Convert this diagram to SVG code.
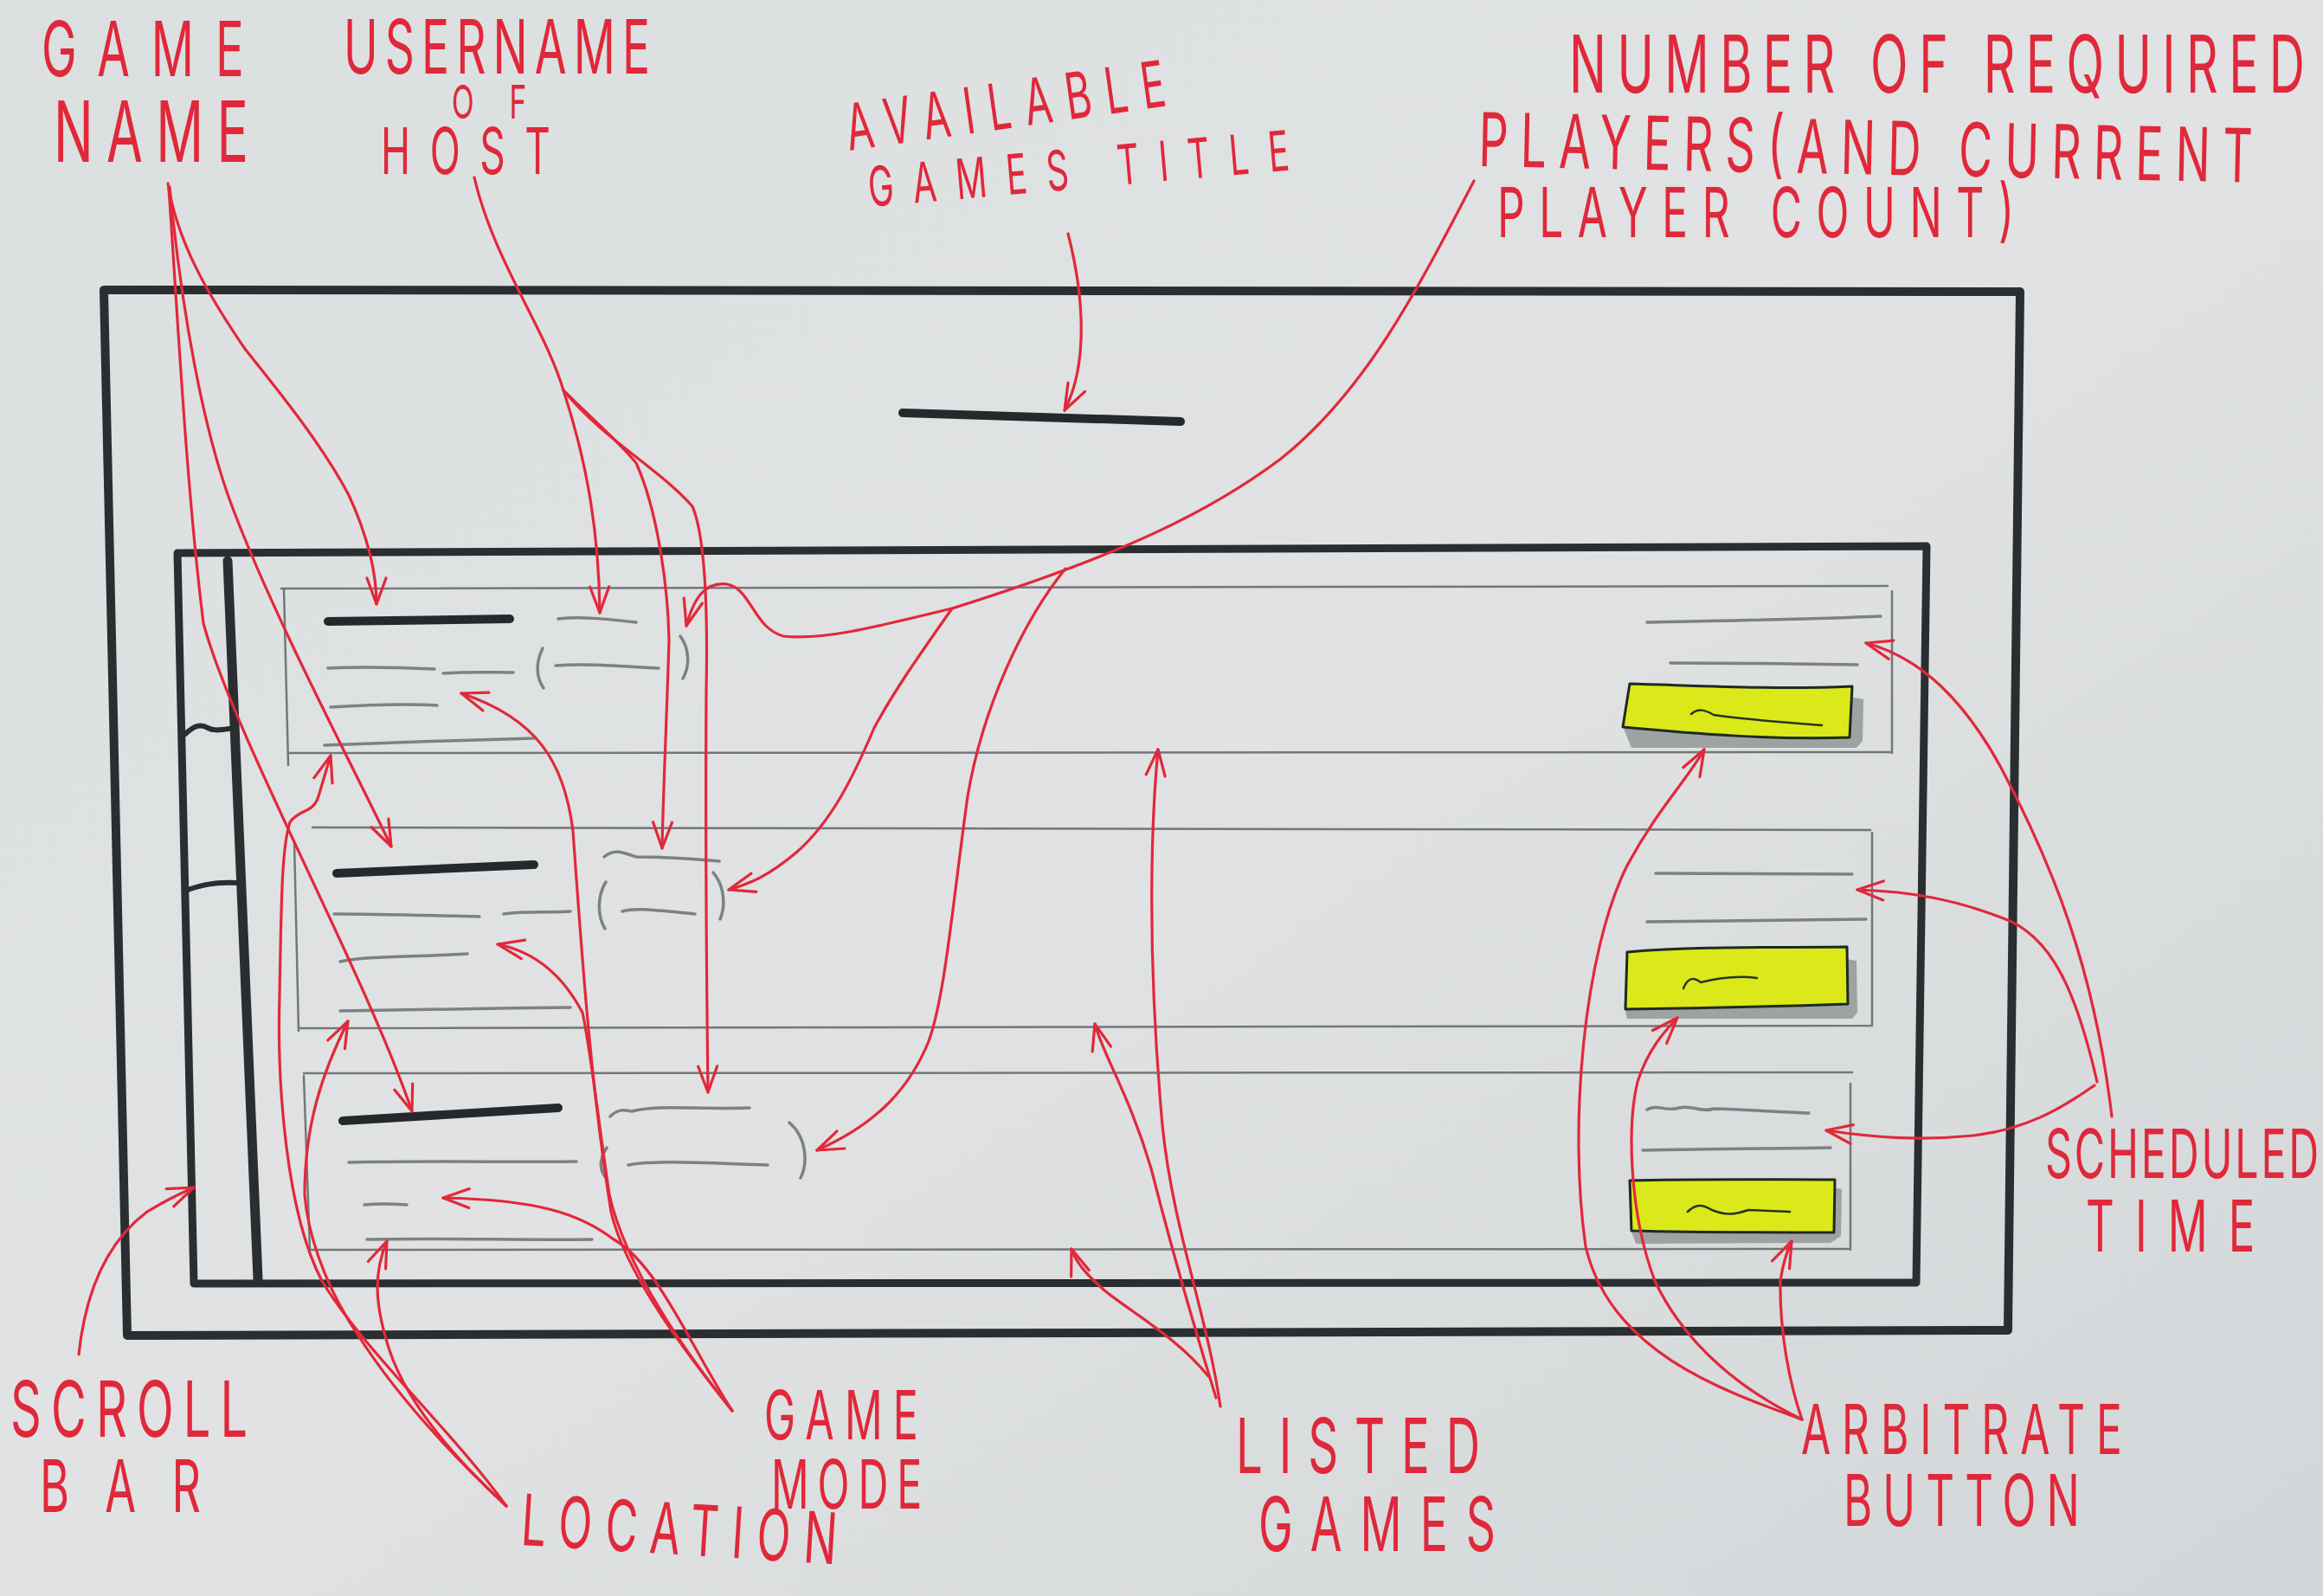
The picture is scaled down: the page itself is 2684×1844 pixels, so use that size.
<svg xmlns="http://www.w3.org/2000/svg" width="2684" height="1844" viewBox="0 0 2684 1844">
<defs>
<linearGradient id="bg" x1="0" y1="0" x2="1" y2="1">
<stop offset="0" stop-color="#dcdfe0"/>
<stop offset="0.5" stop-color="#e0e2e3"/>
<stop offset="1" stop-color="#d3d6d8"/>
</linearGradient>
<marker id="ah" viewBox="0 0 34 26" refX="32" refY="13" markerWidth="34" markerHeight="26" markerUnits="userSpaceOnUse" orient="auto">
<path d="M2,2 L32,13 L2,24" fill="none" stroke="#e2283a" stroke-width="3.2" stroke-linecap="round" stroke-linejoin="round"/>
</marker>
<style>
.frame{fill:none;stroke:#2b2e31;stroke-width:10;stroke-linecap:round;stroke-linejoin:round}
.row{fill:none;stroke:#74777a;stroke-width:2.5;stroke-linecap:round}
.txt{fill:none;stroke:#7e8184;stroke-width:3.5;stroke-linecap:round;stroke-linejoin:round}
.ttl{fill:none;stroke:#26292b;stroke-width:10;stroke-linecap:round}
.btn{fill:#dbe91a;stroke:#1e2a1e;stroke-width:3;stroke-linejoin:round}
.shadow{fill:#9ea2a3}
.sq{fill:none;stroke:#2a3320;stroke-width:2.5;stroke-linecap:round}
.lab{font-family:Inter,"Open Sans","Liberation Sans",sans-serif;font-weight:400;fill:#e0283a}
.con path{fill:none;stroke:#e2283a;stroke-width:3.2;stroke-linecap:round;stroke-linejoin:round;marker-end:url(#ah)}
</style>
</defs>
<rect width="2684" height="1844" fill="url(#bg)"/>

<g id="outer-frame">
<path class="frame" d="M120,335 L2334,337 L2320,1537 L147,1543 Z"/>
</g>
<g id="title-bar">
<path class="ttl" d="M1043,477 L1364,487"/>
</g>
<g id="list-frame">
<path class="frame" style="stroke-width:9" d="M205,639 L2226,631 L2214,1482 L224,1483 Z"/>
</g>
<g id="scroll-bar">
<path class="frame" style="stroke-width:11" d="M263,648 L298,1478"/>
<path class="frame" style="stroke-width:6" d="M214,848 C225,838 232,836 240,841 C248,845 255,843 265,842"/>
<path class="frame" style="stroke-width:6" d="M217,1028 C235,1022 250,1019 272,1020"/>
</g>

<g id="game-row-1">
<path class="row" d="M325,680 L2181,677 M328,680 L333,884 M333,870 L2186,869 M2186,683 L2186,870"/>
<path class="ttl" d="M379,718 L589,715"/>
<path class="txt" d="M379,772 C420,770 460,771 502,773 M512,778 C540,776 565,777 593,777 M382,817 C430,814 470,813 505,815 M375,861 C450,858 540,855 617,853"/>
<path class="txt" d="M645,715 C670,712 700,715 735,719 M642,769 C680,766 720,770 761,772"/>
<path class="txt" d="M627,749 C619,765 619,782 628,795 M786,735 C797,750 797,770 789,784"/>
<path class="txt" d="M1903,719 C1990,717 2080,716 2173,712 M1930,766 C2000,766 2080,767 2146,768"/>
</g>
<g id="arbitrate-button-1">
<path class="shadow" d="M2138,805 L2153,808 L2152,856 L2145,864 L1885,864 L1876,842 Z"/>
<path class="btn" d="M1883,790 C1960,792 2050,797 2140,793 L2137,852 C2050,855 1960,848 1875,840 Z"/>
<path class="sq" d="M1954,825 C1962,818 1970,820 1980,826 C2020,832 2060,834 2105,838"/>
</g>

<g id="game-row-2">
<path class="row" d="M361,956 L2161,959 M340,973 L345,1191 M345,1188 L2163,1185 M2163,962 L2163,1185"/>
<path class="ttl" d="M389,1009 L617,999"/>
<path class="txt" d="M386,1056 C440,1056 500,1058 554,1059 M582,1056 C610,1052 635,1055 659,1053 M393,1111 C430,1104 470,1106 540,1102 M393,1168 C480,1166 570,1165 659,1164"/>
<path class="txt" d="M698,990 C710,980 720,985 735,990 C770,990 800,992 831,995 M719,1053 C735,1048 760,1052 803,1056"/>
<path class="txt" d="M700,1019 C690,1035 690,1058 699,1073 M824,1008 C838,1025 838,1048 832,1062"/>
<path class="txt" d="M1913,1009 C1990,1009 2070,1010 2140,1010 M1903,1065 C1990,1064 2080,1063 2156,1062"/>
</g>
<g id="arbitrate-button-2">
<path class="shadow" d="M2133,1108 L2145,1110 L2146,1170 L2140,1177 L1880,1177 L1876,1160 Z"/>
<path class="btn" d="M1880,1100 C1960,1093 2050,1095 2134,1094 L2135,1160 C2050,1163 1960,1165 1878,1166 Z"/>
<path class="sq" d="M1945,1142 C1950,1130 1956,1128 1965,1135 C1985,1130 2010,1127 2030,1130"/>
</g>

<g id="game-row-3">
<path class="row" d="M351,1240 L2140,1239 M351,1243 L358,1444 M358,1444 L2138,1443 M2138,1252 L2138,1444"/>
<path class="ttl" d="M396,1295 L645,1280"/>
<path class="txt" d="M403,1343 C500,1341 590,1343 666,1342 M421,1392 C440,1390 455,1391 470,1392 M424,1432 C500,1430 600,1433 684,1432"/>
<path class="txt" d="M705,1290 C715,1280 722,1283 730,1284 C760,1276 800,1282 866,1280 M726,1346 C750,1340 820,1344 887,1346"/>
<path class="txt" d="M701,1326 C692,1340 693,1352 700,1361 M912,1297 C933,1315 933,1345 925,1361"/>
<path class="txt" d="M1903,1282 C1915,1275 1925,1285 1940,1280 C1955,1276 1965,1286 1980,1281 C2020,1282 2060,1285 2090,1286 M1898,1329 C1980,1327 2060,1327 2115,1326"/>
</g>
<g id="arbitrate-button-3">
<path class="shadow" d="M2118,1372 L2128,1374 L2127,1428 L2115,1436 L1890,1437 L1884,1420 Z"/>
<path class="btn" d="M1883,1364 C1960,1362 2040,1363 2120,1363 L2119,1424 C2040,1424 1960,1424 1885,1422 Z"/>
<path class="sq" d="M1950,1400 C1960,1390 1968,1392 1978,1398 C1995,1405 2005,1403 2020,1398 L2068,1400"/>
</g>

<g id="connectors" class="con">
<path d="M194,212 C205,280 240,340 283,403 C320,450 370,510 403,572 C425,620 435,660 435,698"/>
<path d="M196,216 C210,360 235,500 270,590 C320,720 400,870 452,978"/>
<path d="M195,218 C205,360 215,560 235,720 C270,850 420,1120 476,1284"/>
<path d="M548,205 C570,300 630,380 651,451 C680,540 692,620 693,708"/>
<path d="M651,451 C690,490 715,510 735,535 C760,590 772,680 773,740 C770,840 766,920 765,980"/>
<path d="M651,451 C700,510 760,540 800,585 C815,620 818,700 816,800 C815,950 816,1100 818,1262"/>
<path d="M1234,270 C1252,340 1258,420 1230,474"/>
<path d="M1703,209 C1640,330 1580,450 1480,530 C1400,590 1300,640 1100,703 C1010,725 950,740 905,735 C870,725 868,680 840,675 C815,672 802,690 793,723"/>
<path d="M1100,703 C1060,760 1032,800 1010,841 C985,900 960,950 920,985 C890,1010 870,1020 842,1028"/>
<path d="M1231,657 C1180,720 1135,820 1118,920 C1100,1050 1092,1150 1073,1203 C1050,1260 1010,1300 944,1329"/>
<path d="M1410,1625 C1395,1520 1355,1420 1343,1300 C1325,1100 1330,950 1338,866"/>
<path d="M1405,1615 C1385,1550 1358,1460 1330,1350 C1305,1265 1275,1220 1265,1183"/>
<path d="M1396,1590 C1360,1545 1305,1515 1275,1490 C1255,1472 1244,1460 1238,1443"/>
<path d="M2082,1640 C1985,1605 1860,1560 1832,1440 C1812,1300 1830,1100 1880,1000 C1915,935 1950,900 1969,866"/>
<path d="M2082,1640 C2020,1610 1950,1560 1912,1480 C1882,1400 1880,1300 1892,1250 C1905,1210 1925,1190 1938,1176"/>
<path d="M2082,1640 C2068,1600 2056,1540 2057,1480 C2060,1460 2065,1445 2070,1434"/>
<path d="M2440,1290 C2420,1120 2372,1000 2312,887 C2270,810 2220,760 2156,743"/>
<path d="M2423,1250 C2400,1150 2372,1080 2312,1060 C2260,1040 2210,1030 2146,1028"/>
<path d="M2420,1254 C2380,1282 2340,1305 2280,1312 C2220,1318 2170,1315 2110,1306"/>
<path d="M91,1565 C100,1480 130,1430 170,1400 C195,1385 210,1378 224,1372"/>
<path d="M585,1740 C520,1650 420,1560 372,1480 C330,1400 320,1250 323,1150 C325,1050 325,980 335,950 C345,935 362,940 368,920 L382,873"/>
<path d="M585,1740 C510,1670 450,1600 412,1540 C372,1480 355,1420 352,1380 C352,1300 372,1240 402,1180"/>
<path d="M585,1740 C520,1680 470,1620 450,1560 C432,1505 432,1470 447,1434"/>
<path d="M846,1630 C790,1560 722,1470 706,1400 C682,1250 672,1100 662,960 C652,880 620,830 533,801"/>
<path d="M846,1630 C782,1550 722,1460 704,1380 C692,1300 682,1210 673,1170 C652,1130 620,1100 575,1091"/>
<path d="M846,1630 C800,1560 760,1460 709,1432 C670,1402 620,1386 512,1384"/>
</g>

<g id="labels">
<g id="label-game-name">
<text class="lab" transform="translate(48,88) scale(0.62,1)" font-size="88" textLength="377" lengthAdjust="spacing">GAME</text>
<text class="lab" transform="translate(62,187) scale(0.62,1)" font-size="98" textLength="363" lengthAdjust="spacing">NAME</text>
</g>
<g id="label-username">
<text class="lab" transform="translate(397,85) scale(0.62,1)" font-size="86" textLength="571" lengthAdjust="spacing">USERNAME</text>
<text class="lab" transform="translate(522,137) scale(0.62,1)" font-size="54" textLength="139" lengthAdjust="spacing">OF</text>
<text class="lab" transform="translate(440,201) scale(0.62,1)" font-size="74" textLength="316" lengthAdjust="spacing">HOST</text>
</g>
<g id="label-title">
<text class="lab" transform="translate(981,174) rotate(-8) scale(0.62,1)" font-size="74" textLength="600" lengthAdjust="spacing">AVAILABLE</text>
<text class="lab" transform="translate(1005,239) rotate(-5) scale(0.62,1)" font-size="64" textLength="787" lengthAdjust="spacing">GAMES TITLE</text>
</g>
<g id="label-players">
<text class="lab" transform="translate(1813,107) scale(0.62,1)" font-size="92" textLength="1371" lengthAdjust="spacing">NUMBER OF REQUIRED</text>
<text class="lab" transform="translate(1708,192) rotate(1.2) scale(0.62,1)" font-size="86" textLength="1442" lengthAdjust="spacing">PLAYERS(AND CURRENT</text>
<text class="lab" transform="translate(1730,274) scale(0.62,1)" font-size="80" textLength="963" lengthAdjust="spacing">PLAYER COUNT)</text>
</g>
<g id="label-scheduled">
<text class="lab" transform="translate(2363,1361) scale(0.62,1)" font-size="78" textLength="510" lengthAdjust="spacing">SCHEDULED</text>
<text class="lab" transform="translate(2410,1446) scale(0.62,1)" font-size="82" textLength="315" lengthAdjust="spacing">TIME</text>
</g>
<g id="label-scroll">
<text class="lab" transform="translate(12,1660) scale(0.62,1)" font-size="90" textLength="442" lengthAdjust="spacing">SCROLL</text>
<text class="lab" transform="translate(46,1747) scale(0.62,1)" font-size="84" textLength="300" lengthAdjust="spacing">BAR</text>
</g>
<g id="label-location">
<text class="lab" transform="translate(601,1785) rotate(3.5) scale(0.62,1)" font-size="82" textLength="589" lengthAdjust="spacing">LOCATION</text>
</g>
<g id="label-mode">
<text class="lab" transform="translate(883,1663) scale(0.62,1)" font-size="78" textLength="287" lengthAdjust="spacing">GAME</text>
<text class="lab" transform="translate(891,1743) scale(0.62,1)" font-size="78" textLength="281" lengthAdjust="spacing">MODE</text>
</g>
<g id="label-listed">
<text class="lab" transform="translate(1428,1702) scale(0.62,1)" font-size="88" textLength="455" lengthAdjust="spacing">LISTED</text>
<text class="lab" transform="translate(1454,1792) scale(0.62,1)" font-size="86" textLength="442" lengthAdjust="spacing">GAMES</text>
</g>
<g id="label-arbitrate">
<text class="lab" transform="translate(2081,1680) scale(0.62,1)" font-size="80" textLength="598" lengthAdjust="spacing">ARBITRATE</text>
<text class="lab" transform="translate(2130,1763) scale(0.62,1)" font-size="82" textLength="440" lengthAdjust="spacing">BUTTON</text>
</g>
</g>
</svg>
